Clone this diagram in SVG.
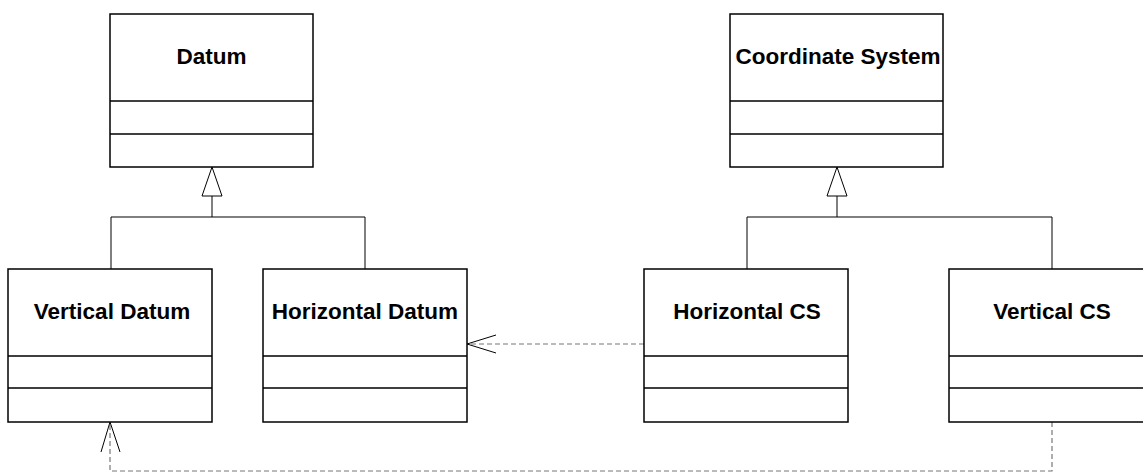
<svg xmlns="http://www.w3.org/2000/svg" width="1143" height="472" viewBox="0 0 1143 472">
<style>
.box{fill:#fff;stroke:#000;stroke-width:1.5}
.div{stroke:#000;stroke-width:1.5}
.lbl{font-family:"Liberation Sans",Arial,sans-serif;font-weight:bold;font-size:22.5px;fill:#000;text-anchor:middle}
.line{fill:none;stroke:#000;stroke-width:1}
.tri{fill:#fff;stroke:#000;stroke-width:1}
.dash{fill:none;stroke:#777;stroke-width:1.2;stroke-dasharray:5,3}
.open{fill:none;stroke:#000;stroke-width:1}
</style>
<rect width="1143" height="472" fill="#fff"/>
<g id="connectors">
  <path class="line" d="M212,196 V217 M111,269 V217 H365 V269"/>
  <polygon class="tri" points="212,167 202,196 222,196"/>
  <path class="line" d="M837,196 V217 M747,269 V217 H1052 V269"/>
  <polygon class="tri" points="837,167 827,196 847,196"/>
  <path class="dash" d="M644,344 H468"/>
  <path class="open" d="M496,335 L467,344 L496,353"/>
  <path class="dash" d="M1052,422 V471 H110 V423"/>
  <path class="open" d="M101,452 L110,422 L120,452"/>
</g>
<g id="datum">
  <rect class="box" x="110" y="14" width="203" height="153"/>
  <path class="div" d="M110,101 H313 M110,134 H313"/>
  <text class="lbl" x="211.5" y="64">Datum</text>
</g>
<g id="coordinate-system">
  <rect class="box" x="730" y="14" width="213" height="153"/>
  <path class="div" d="M730,101 H943 M730,134 H943"/>
  <text class="lbl" x="838" y="64">Coordinate System</text>
</g>
<g id="vertical-datum">
  <rect class="box" x="8" y="269" width="204" height="153"/>
  <path class="div" d="M8,356 H212 M8,388 H212"/>
  <text class="lbl" x="112" y="319">Vertical Datum</text>
</g>
<g id="horizontal-datum">
  <rect class="box" x="263" y="269" width="204" height="153"/>
  <path class="div" d="M263,356 H467 M263,388 H467"/>
  <text class="lbl" x="365" y="319">Horizontal Datum</text>
</g>
<g id="horizontal-cs">
  <rect class="box" x="644" y="269" width="204" height="153"/>
  <path class="div" d="M644,356 H848 M644,388 H848"/>
  <text class="lbl" x="747" y="319">Horizontal CS</text>
</g>
<g id="vertical-cs">
  <rect class="box" x="949" y="269" width="204" height="153"/>
  <path class="div" d="M949,356 H1153 M949,388 H1153"/>
  <text class="lbl" x="1052" y="319">Vertical CS</text>
</g>
</svg>
